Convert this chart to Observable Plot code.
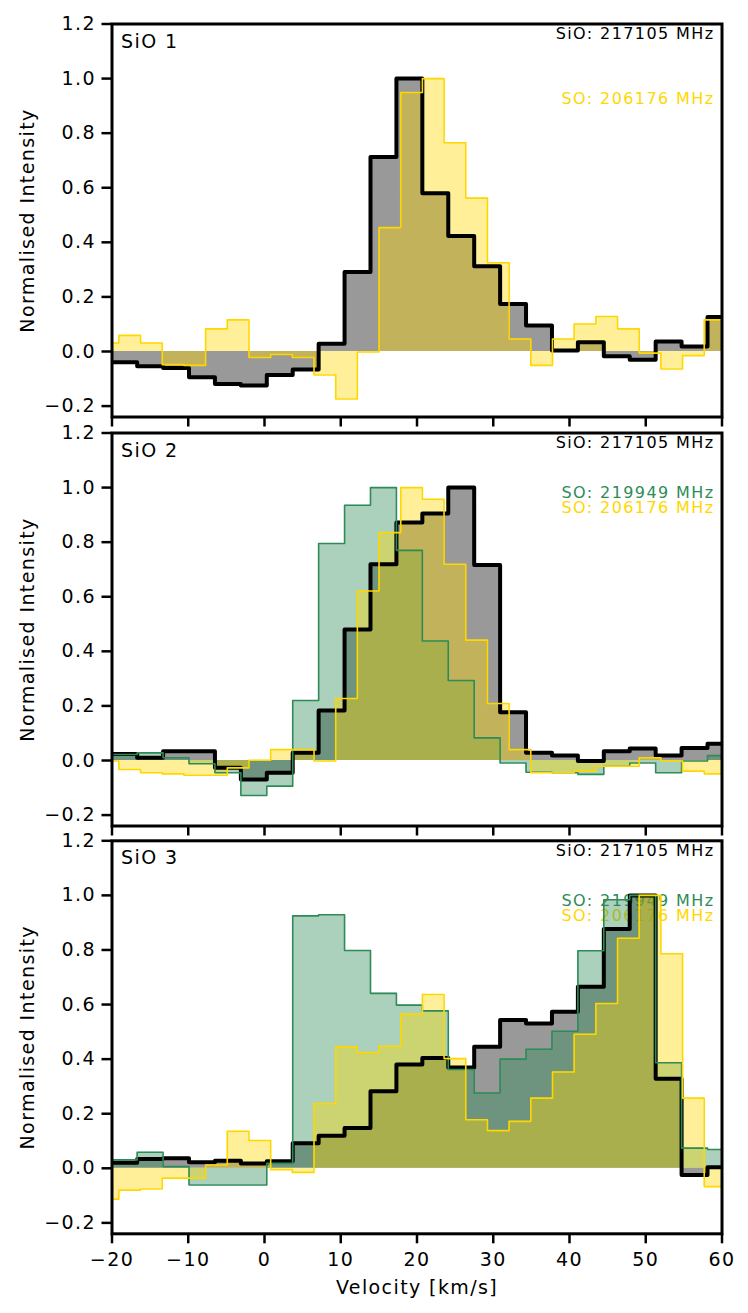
<!DOCTYPE html>
<html><head><meta charset="utf-8">
<script src="https://cdn.jsdelivr.net/npm/d3@7"></script>
<script src="https://cdn.jsdelivr.net/npm/@observablehq/plot@0.6"></script>
<style>
body{margin:0;background:#fff;}
#chart{width:748px;height:1313px;}
#chart svg{display:block;overflow:visible;background:transparent !important;}
#chart svg, #chart svg text{font-family:"DejaVu Sans",Verdana,sans-serif;letter-spacing:1.4px;}
</style></head><body><div id="chart"></div>
<script>
// ---- labels ----
const panelNames = ["SiO 1", "SiO 2", "SiO 3"];
const sioLabel = "SiO: 217105 MHz";
const so219Label = "SO: 219949 MHz";
const so206Label = "SO: 206176 MHz";
const yLabel = "Normalised Intensity";
const xLabel = "Velocity [km/s]";
const xTicks = [-20, -10, 0, 10, 20, 30, 40, 50, 60];
const yTicks = [-0.2, 0.0, 0.2, 0.4, 0.6, 0.8, 1.0, 1.2];

// ---- channel velocities (km/s) ----
const vSiO = [-21.8, -18.4, -15.0, -11.6, -8.2, -4.8, -1.4, 2.0, 5.4, 8.8, 12.2, 15.6, 19.0, 22.4, 25.8, 29.2, 32.6, 36.0, 39.4, 42.8, 46.2, 49.6, 53.0, 56.4, 59.8, 63.2];
const vSO219 = [-21.8, -18.4, -15.0, -11.6, -8.2, -4.8, -1.4, 2.0, 5.4, 8.8, 12.2, 15.6, 19.0, 22.4, 25.8, 29.2, 32.6, 36.0, 39.4, 42.8, 46.2, 49.6, 53.0, 56.4, 59.8, 63.2];
const vSO206 = [-23.36, -20.52, -17.68, -14.83, -11.99, -9.15, -6.30, -3.46, -0.61, 2.23, 5.07, 7.92, 10.76, 13.60, 16.45, 19.29, 22.13, 24.97, 27.82, 30.66, 33.50, 36.35, 39.19, 42.03, 44.88, 47.72, 50.56, 53.41, 56.25, 59.09, 61.94];

// ---- normalised intensities ----
const sio1 = [-0.039, -0.039, -0.054, -0.060, -0.094, -0.119, -0.125, -0.086, -0.066, 0.028, 0.291, 0.713, 1.0, 0.58, 0.423, 0.312, 0.174, 0.095, 0.004, 0.034, -0.017, -0.030, 0.037, 0.018, 0.126, 0.126];
const so206_1 = [0.031, 0.031, 0.059, 0.031, -0.048, -0.051, 0.083, 0.116, -0.022, -0.011, -0.022, -0.086, -0.174, -0.002, 0.454, 0.949, 1.0, 0.765, 0.562, 0.325, 0.046, -0.051, 0.046, 0.101, 0.128, 0.083, -0.006, -0.064, -0.015, 0.116, 0.116];

const sio2 = [0.024, 0.024, 0.010, 0.034, 0.034, -0.027, -0.070, -0.045, 0.028, 0.183, 0.480, 0.719, 0.872, 0.905, 1.0, 0.716, 0.177, 0.028, 0.018, -0.002, 0.034, 0.044, 0.018, 0.046, 0.061, 0.061];
const so219_2 = [0.022, 0.022, 0.028, 0.010, -0.012, -0.045, -0.128, -0.094, 0.220, 0.795, 0.935, 1.0, 0.770, 0.438, 0.293, 0.083, -0.009, -0.043, -0.045, -0.051, -0.021, -0.009, -0.045, -0.002, 0.018, 0.018];
const so206_2 = [-0.002, -0.002, -0.033, -0.045, -0.049, -0.054, -0.054, -0.027, 0.001, 0.040, 0.040, -0.002, 0.227, 0.621, 0.835, 1.0, 0.957, 0.719, 0.441, 0.209, 0.040, -0.045, -0.045, -0.039, -0.021, -0.021, 0.010, -0.002, -0.039, -0.049, -0.049];

const sio3 = [0.020, 0.020, 0.034, 0.037, 0.022, 0.028, 0.018, 0.026, 0.092, 0.119, 0.148, 0.282, 0.380, 0.404, 0.369, 0.445, 0.543, 0.531, 0.574, 0.665, 0.877, 1.0, 0.328, -0.025, 0.004, 0.004];
const so219_3 = [0.031, 0.031, 0.059, 0.006, -0.061, -0.061, -0.061, 0.018, 0.925, 0.929, 0.798, 0.641, 0.598, 0.577, 0.362, 0.276, 0.400, 0.436, 0.502, 0.797, 0.984, 1.0, 0.387, 0.074, 0.069, 0.069];
const so206_3 = [-0.113, -0.113, -0.080, -0.076, -0.036, -0.036, 0.012, 0.136, 0.102, -0.005, -0.015, 0.237, 0.445, 0.424, 0.447, 0.565, 0.637, 0.402, 0.178, 0.138, 0.172, 0.257, 0.353, 0.491, 0.604, 0.843, 1.0, 0.786, 0.257, -0.067, -0.067];

// ---- styling ----
const cSiO = "black", cSO219 = "seagreen", cSO206 = "gold";
const FS = 19;

function rows(v, I) { return v.map((x, i) => ({v: x, I: I[i]})); }

const panels = [
  {name: panelNames[0], series: [[vSiO, sio1, cSiO, 4], [vSO206, so206_1, cSO206, 1.6]],
   so: [[so206Label, cSO206, 69]], h: 424, mt: 23.5, mb: 7.5, bottom: false},
  {name: panelNames[1], series: [[vSiO, sio2, cSiO, 4], [vSO219, so219_2, cSO219, 1.6], [vSO206, so206_2, cSO206, 1.6]],
   so: [[so219Label, cSO219, 54], [so206Label, cSO206, 69]], h: 408, mt: 8.5, mb: 6.5, bottom: false},
  {name: panelNames[2], series: [[vSiO, sio3, cSiO, 4], [vSO219, so219_3, cSO219, 1.6], [vSO206, so206_3, cSO206, 1.6]],
   so: [[so219Label, cSO219, 54], [so206Label, cSO206, 69]], h: 481, mt: 8.3, mb: 79.7, bottom: true}
];

const root = document.getElementById("chart");
for (const p of panels) {
  const marks = [
    Plot.text([p.name], {text: d => d, frameAnchor: "top-left", dx: 9, dy: 10, lineAnchor: "top", textAnchor: "start", fontSize: FS, fill: "black"}),
    Plot.text([sioLabel], {text: d => d, frameAnchor: "top-right", dx: -7.5, dy: 4, lineAnchor: "top", textAnchor: "end", fontSize: 16, fill: "black"}),
    ...p.so.map(([t, c, dy]) => Plot.text([t], {text: d => d, frameAnchor: "top-right", dx: -7.5, dy, lineAnchor: "top", textAnchor: "end", fontSize: 16, fill: c})),
    ...p.series.map(([v, I, c]) => Plot.areaY(rows(v, I), {x: "v", y: "I", curve: "step", fill: c, fillOpacity: 0.4, clip: true})),
    ...p.series.map(([v, I, c, w]) => Plot.lineY(rows(v, I), {x: "v", y: "I", curve: "step", stroke: c, strokeWidth: w, clip: true})),
    Plot.axisY({ticks: yTicks, tickSize: 10, tickPadding: 6, tickFormat: d3.format(".1f"), fontSize: FS, strokeWidth: 2.5, label: null}),
    Plot.axisX({ticks: xTicks, tickSize: 10, tickPadding: 9, tickFormat: p.bottom ? d3.format("d") : () => "", fontSize: FS, strokeWidth: 2.5, label: null}),
    Plot.text([yLabel], {text: d => d, frameAnchor: "left", rotate: -90, dx: -78, lineAnchor: "bottom", textAnchor: "middle", fontSize: FS, fill: "black"}),
    Plot.frame({stroke: "black", strokeWidth: 3})
  ];
  if (p.bottom) marks.push(Plot.text([xLabel], {text: d => d, frameAnchor: "bottom", dy: 60, lineAnchor: "bottom", textAnchor: "middle", fontSize: FS, fill: "black"}));
  const chart = Plot.plot({
    width: 748, height: p.h,
    marginLeft: 111.5, marginRight: 26.5, marginTop: p.mt, marginBottom: p.mb,
    x: {domain: [-20, 60]},
    y: {domain: [-0.24, 1.2]},
    marks
  });
  root.appendChild(chart);
}
</script></body></html>
